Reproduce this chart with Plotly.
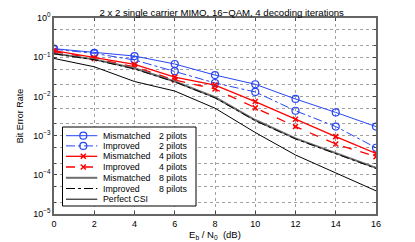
import plotly.graph_objects as go

snr = [0, 2, 4, 6, 8, 10, 12, 14, 16]

mism_2 = [0.165, 0.13, 0.107, 0.067, 0.035, 0.0204, 0.0086, 0.0039, 0.0017]
impr_2 = [0.16, 0.125, 0.085, 0.044, 0.022, 0.013, 0.0043, 0.0017, 0.00049]
mism_4 = [0.147, 0.097, 0.066, 0.031, 0.0195, 0.0074, 0.0026, 0.00094, 0.00035]
impr_4 = [0.14, 0.092, 0.057, 0.026, 0.0155, 0.0051, 0.0017, 0.00061, 0.00029]
mism_8 = [0.125, 0.088, 0.052, 0.024, 0.0095, 0.0025, 0.00085, 0.00035, 0.00015]
impr_8 = [0.122, 0.086, 0.050, 0.0235, 0.0092, 0.0024, 0.00082, 0.00034, 0.000145]
perfect = [0.093, 0.057, 0.024, 0.0137, 0.005, 0.0012, 0.00032, 0.00011, 0.000039]

ytick_vals = [1, 0.1, 0.01, 0.001, 0.0001, 0.00001]
ytick_text = ["10<sup>0</sup>", "10<sup>−1</sup>", "10<sup>−2</sup>", "10<sup>−3</sup>",
              "10<sup>−4</sup>", "10<sup>−5</sup>"]
xtick_vals = [0, 2, 4, 6, 8, 10, 12, 14, 16]

legend_names = ["Mismatched", "Improved", "Mismatched", "Improved",
                "Mismatched", "Improved", "Perfect CSI"]
legend_pilots = ["2 pilots", "2 pilots", "4 pilots", "4 pilots",
                 "8 pilots", "8 pilots", ""]

BLUE = "rgb(40,70,245)"
RED = "rgb(255,0,0)"
GRAY = "rgb(110,110,110)"

styles = [
    dict(line=dict(color=BLUE, width=1), marker=dict(symbol="circle-open", size=7, color=BLUE, line=dict(width=1.2)), mode="lines+markers"),
    dict(line=dict(color=BLUE, width=1, dash="dashdot"), marker=dict(symbol="circle-open", size=7, color=BLUE, line=dict(width=1.2)), mode="lines+markers"),
    dict(line=dict(color=RED, width=1.3), marker=dict(symbol="x-thin-open", size=5, color=RED, line=dict(width=1.5, color=RED)), mode="lines+markers"),
    dict(line=dict(color=RED, width=1.3, dash="dash"), marker=dict(symbol="x-thin-open", size=5, color=RED, line=dict(width=1.5, color=RED)), mode="lines+markers"),
    dict(line=dict(color=GRAY, width=2), mode="lines"),
    dict(line=dict(color="black", width=1, dash="dashdot"), mode="lines"),
    dict(line=dict(color="black", width=1), mode="lines"),
]
series = [mism_2, impr_2, mism_4, impr_4, mism_8, impr_8, perfect]

fig = go.Figure()
for name, pil, ys, st in zip(legend_names, legend_pilots, series, styles):
    fig.add_trace(go.Scatter(x=snr, y=ys, name=(name + " " + pil).strip(), showlegend=False,
                             xaxis="x", yaxis="y", **st))

# Manual legend on a helper axis mapped to the plot area (x2/y2 in plot-area pixels)
L_LEFT, L_RIGHT, L_TOP, L_BOT = 8.5, 142, 109, 188
row_y = [117.7, 127.9, 138.3, 149, 159.8, 170.5, 181.2]
fig.add_trace(go.Scatter(x=[L_LEFT, L_RIGHT, L_RIGHT, L_LEFT, L_LEFT],
                         y=[L_TOP, L_TOP, L_BOT, L_BOT, L_TOP], xaxis="x2", yaxis="y2",
                         mode="lines", fill="toself", fillcolor="white",
                         line=dict(color="black", width=1), showlegend=False, hoverinfo="skip"))
for i, (name, pil, st) in enumerate(zip(legend_names, legend_pilots, styles)):
    y = row_y[i]
    fig.add_trace(go.Scatter(x=[12, 29.3, 43.3], y=[y, y, y], xaxis="x2", yaxis="y2",
                             mode="lines", line=st["line"], showlegend=False, hoverinfo="skip"))
    if st["mode"] == "lines+markers":
        fig.add_trace(go.Scatter(x=[29.3], y=[y], xaxis="x2", yaxis="y2", mode="markers",
                                 marker=st["marker"], showlegend=False, hoverinfo="skip"))
    fig.add_annotation(xref="x2", yref="y2", x=47, y=y, text=name, showarrow=False,
                       xanchor="left", yanchor="middle", font=dict(size=8.8))
    if pil:
        fig.add_annotation(xref="x2", yref="y2", x=135, y=y, text=pil, showarrow=False,
                           xanchor="right", yanchor="middle", font=dict(size=8.8))

grid = dict(showgrid=True, gridcolor="rgb(160,160,160)", griddash="dot", gridwidth=1)
fig.update_layout(
    width=407, height=234,
    margin=dict(l=46, r=39, t=10, b=28, autoexpand=False),
    paper_bgcolor="white", plot_bgcolor="white",
    font=dict(family="Liberation Sans, Arial, sans-serif", size=9, color="black"),
    title=dict(text="2 x 2 single carrier MIMO, 16−QAM, 4 decoding iterations",
               x=0.525, xanchor="center", y=0.981, yanchor="middle",
               font=dict(size=9.6)),
    showlegend=False,
    xaxis=dict(range=[0, 16], tickvals=xtick_vals, ticks="inside", ticklen=3,
               showline=True, linecolor="rgb(100,100,100)", linewidth=1.5, mirror="allticks",
               zeroline=False, automargin=False, tickfont=dict(size=9),
               title=dict(text="E<sub>b</sub> / N<sub>0</sub>  (dB)", standoff=2, font=dict(size=9.5)),
               **grid),
    yaxis=dict(type="log", range=[-5, 0], tickvals=ytick_vals, ticktext=ytick_text,
               ticks="inside", ticklen=3,
               showline=True, linecolor="rgb(100,100,100)", linewidth=1.5, mirror="allticks",
               minor=dict(showgrid=True, gridcolor="rgb(160,160,160)", griddash="dot",
                          ticks="inside", ticklen=2, dtick="D2"),
               zeroline=False, automargin=False, tickfont=dict(size=9),
               title=dict(text="Bit Error Rate", standoff=8, font=dict(size=9)),
               **grid),
    xaxis2=dict(overlaying="x", range=[0, 322], visible=False, anchor="y2"),
    yaxis2=dict(overlaying="y", range=[196, 0], visible=False, anchor="x2"),
)

fig.write_html("out.html")
